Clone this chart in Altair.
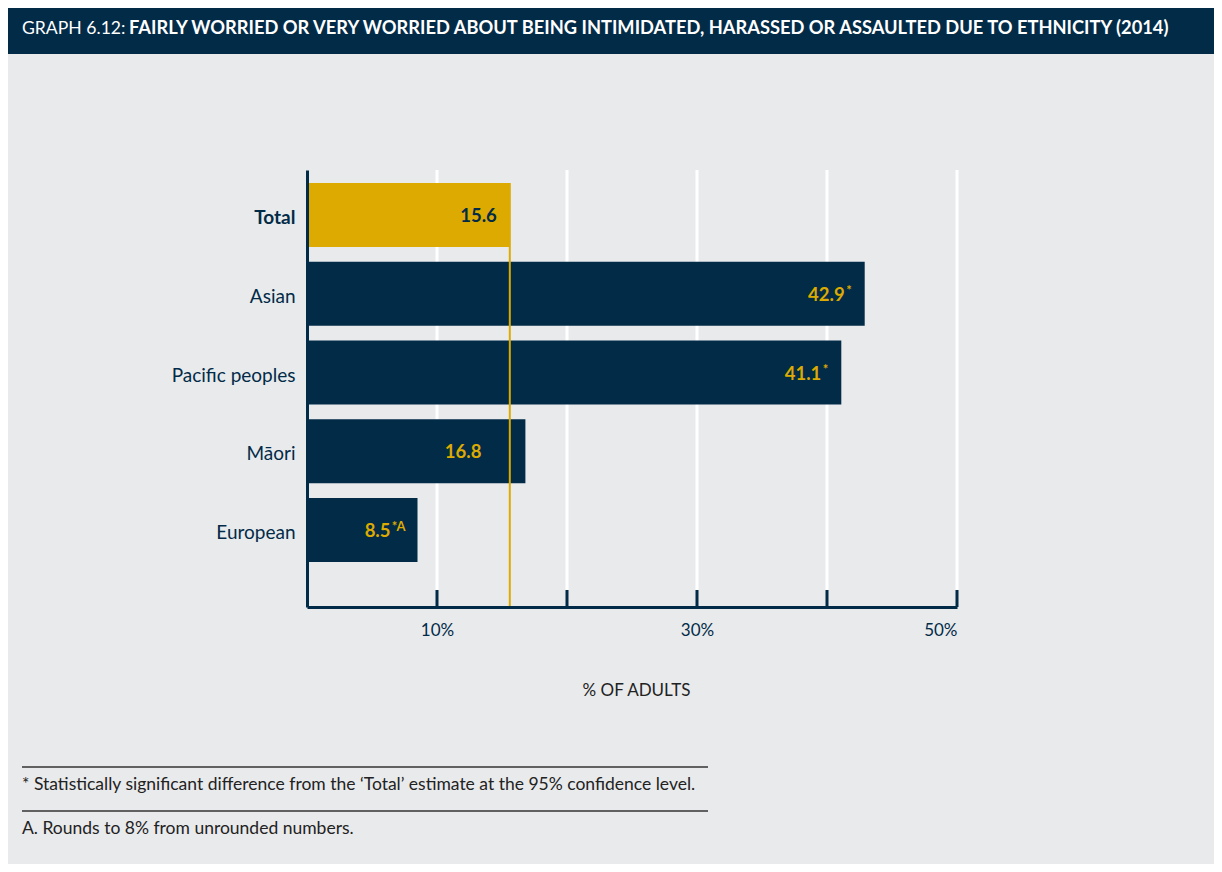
import altair as alt
import pandas as pd

# ---- data ----
categories = ["Total", "Asian", "Pacific peoples", "Māori", "European"]
values = [15.6, 42.9, 41.1, 16.8, 8.5]
value_labels = ["15.6", "42.9", "41.1", "16.8", "8.5"]
sup_labels = ["", "*", "*", "", "*A"]
grid_values = [10, 20, 30, 40, 50]
tick_label_values = [10, 30, 50]
title_prefix = "GRAPH 6.12:"
title_main = "FAIRLY WORRIED OR VERY WORRIED ABOUT BEING INTIMIDATED, HARASSED OR ASSAULTED DUE TO ETHNICITY (2014)"
x_title = "% OF ADULTS"
footnotes = [
    "* Statistically significant difference from the \u2018Total\u2019 estimate at the 95% confidence level.",
    "A. Rounds to 8% from unrounded numbers.",
]

NAVY = "#022b48"
YELLOW = "#dcaa00"
BG = "#e9eaec"
FONT = "Lato"
W, H = 650, 437
PAD_L, PAD_T = 299, 162
SVG_W, SVG_H = 1206, 856

df = pd.DataFrame({"cat": categories, "value": values, "label": value_labels, "sup": sup_labels})
grid_df = pd.DataFrame({"value": grid_values})
total_df = df[df["cat"] == "Total"]

x_scale = alt.Scale(domain=[0, 50], nice=False)
y_scale = alt.Scale(domain=categories, paddingInner=0.187, paddingOuter=0.368, align=0.224)

x_axis = alt.Axis(
    values=tick_label_values, labelExpr="datum.value + '%'", ticks=False, tickSize=0, grid=False,
    domainColor=NAVY, domainWidth=3, labelFont=FONT, labelFontSize=17, labelColor=NAVY,
    labelPadding=15, title=x_title, titleFont=FONT, titleFontSize=17, titleFontWeight="normal",
    titleColor="#222222", titleY=83, titleBaseline="middle", titleX=329, zindex=1,
)
y_axis = alt.Axis(
    title=None, ticks=False, tickSize=0, grid=False, domainColor=NAVY, domainWidth=3,
    labelFont=FONT, labelFontSize=19, labelColor=NAVY, labelPadding=12, labelOffset=3,
    labelFontWeight={"expr": "datum.value == 'Total' ? 'bold' : 'normal'"}, zindex=1,
)

base = alt.Chart(df)
X = alt.X("value:Q", scale=x_scale, axis=x_axis, title=x_title)
Y = alt.Y("cat:N", scale=y_scale, sort=categories, axis=y_axis, title=None)

one = pd.DataFrame({"t": [title_prefix]})

header = alt.Chart(one).mark_rect(color=NAVY).encode(
    x=alt.value(-PAD_L), x2=alt.value(SVG_W - PAD_L), y=alt.value(-PAD_T), y2=alt.value(-116)
)
title1 = alt.Chart(one).mark_text(
    align="left", baseline="middle", font=FONT, fontSize=17.6, color="white"
).encode(x=alt.value(-285), y=alt.value(-141), text="t:N")
title2 = alt.Chart(pd.DataFrame({"t": [title_main]})).mark_text(
    align="left", baseline="middle", font=FONT, fontSize=18.3, fontWeight="bold", color="white"
).encode(x=alt.value(-178), y=alt.value(-141), text="t:N")

grid = alt.Chart(grid_df).mark_rule(color="white", strokeWidth=3).encode(
    x=X, y=alt.value(0), y2=alt.value(420)
)
ticks = alt.Chart(grid_df).mark_rule(color=NAVY, strokeWidth=3).encode(
    x=X, y=alt.value(420), y2=alt.value(H)
)

bars = base.mark_bar().encode(
    x=X, y=Y,
    color=alt.condition("datum.cat == 'Total'", alt.value(YELLOW), alt.value(NAVY)),
)

total_line = alt.Chart(total_df).mark_rule(color=YELLOW, strokeWidth=2).encode(
    x=X, y=alt.value(13), y2=alt.value(H)
)

def num_layer(filt, dx, color):
    return base.transform_filter(filt).mark_text(
        align="right", baseline="middle", dx=dx, dy=1, font=FONT, fontSize=18.5, fontWeight="bold", color=color
    ).encode(x=X, y=Y, text="label:N")

def sup_layer(filt, dx):
    return base.transform_filter(filt).mark_text(
        align="right", baseline="middle", dx=dx, dy=-3, font=FONT, fontSize=13, fontWeight="bold", color=YELLOW
    ).encode(x=X, y=Y, text="sup:N")

lbl_total = num_layer("datum.cat == 'Total'", -13, NAVY)
lbl_plain = num_layer("datum.sup == '' && datum.cat != 'Total'", -44, YELLOW)
lbl_star = num_layer("datum.sup == '*'", -20, YELLOW)
sup_star = sup_layer("datum.sup == '*'", -13)
lbl_starA = num_layer("datum.sup == '*A'", -27, YELLOW)
sup_starA = sup_layer("datum.sup == '*A'", -12)

fn_df1 = pd.DataFrame({"t": [footnotes[0]]})
fn_df2 = pd.DataFrame({"t": [footnotes[1]]})
fn_line1 = alt.Chart(fn_df1).mark_rule(color="#333333", strokeWidth=1.5).encode(
    x=alt.value(-285), x2=alt.value(401), y=alt.value(597)
)
fn_line2 = alt.Chart(fn_df2).mark_rule(color="#333333", strokeWidth=1.5).encode(
    x=alt.value(-285), x2=alt.value(401), y=alt.value(641)
)
fn_text1 = alt.Chart(fn_df1).mark_text(
    align="left", baseline="middle", font=FONT, fontSize=17.5, color="#222222"
).encode(x=alt.value(-285), y=alt.value(615), text="t:N")
fn_text2 = alt.Chart(fn_df2).mark_text(
    align="left", baseline="middle", font=FONT, fontSize=17.5, color="#222222"
).encode(x=alt.value(-285), y=alt.value(659), text="t:N")

chart = alt.layer(
    header, title1, title2, grid, bars, ticks, total_line,
    lbl_total, lbl_plain, lbl_star, sup_star, lbl_starA, sup_starA,
    fn_line1, fn_line2, fn_text1, fn_text2,
).properties(
    width=W, height=H, background=BG,
    padding={"left": PAD_L, "top": PAD_T, "right": SVG_W - PAD_L - W, "bottom": SVG_H - PAD_T - H},
    autosize=alt.AutoSizeParams(type="none"),
).configure_view(stroke=None)

chart.save("out.html", embed_options={"renderer": "svg", "actions": False})
